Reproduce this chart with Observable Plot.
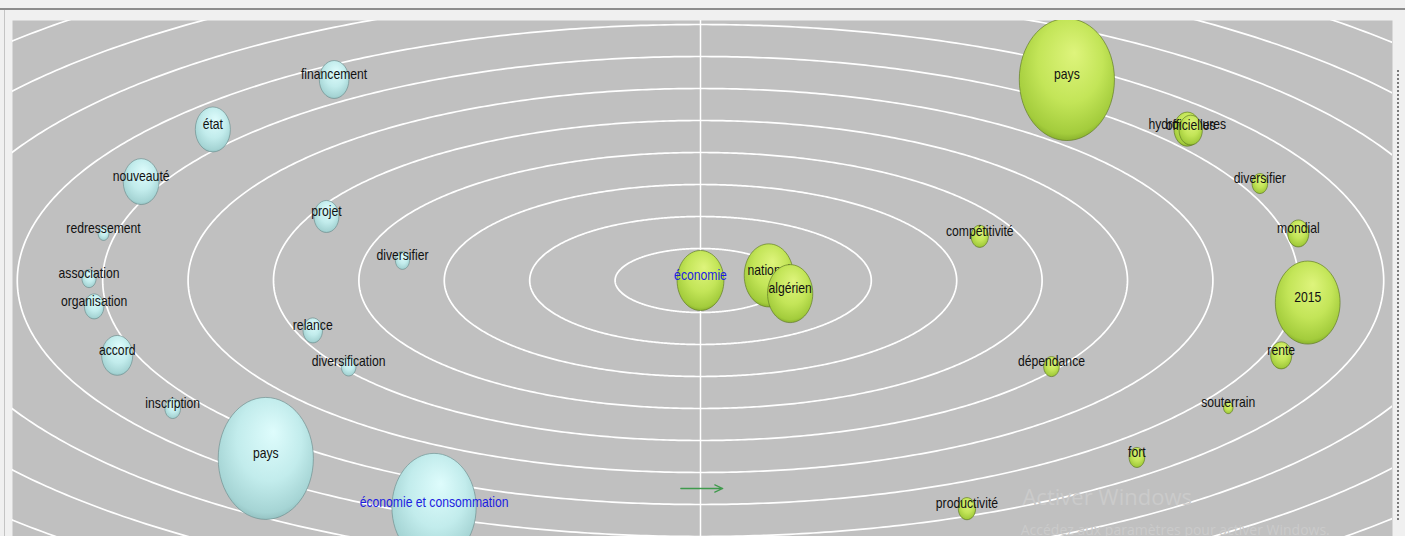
<!DOCTYPE html>
<html>
<head>
<meta charset="utf-8">
<script src="https://cdn.jsdelivr.net/npm/d3@7"></script>
<script src="https://cdn.jsdelivr.net/npm/@observablehq/plot@0.6"></script>
<style>
  html, body { margin: 0; padding: 0; background: #f0f0f0; overflow: hidden; }
  #wrap { position: relative; width: 1405px; height: 536px; }
  #topline { position: absolute; left: 0; top: 8px; width: 1405px; height: 2px; background: #8c8c8c; }
  #leftline { position: absolute; left: 4px; top: 10px; width: 1px; height: 526px; background: #c4c4c4; }
  #rightdots { position: absolute; left: 1397px; top: 70px; width: 0; height: 450px; border-left: 2px dotted #7a7a7a; }
</style>
</head>
<body>
<div id="wrap"></div>
<script>
// ---- data (positions in ring units from the centre, frequencies) ----
const blueWords = ["financement", "état", "nouveauté", "redressement", "projet", "diversifier",
  "association", "organisation", "accord", "inscription", "relance", "diversification",
  "pays", "économie et consommation"];
const blueX = [-4.29, -5.71, -6.55, -6.99, -4.38, -3.49, -7.16, -7.10, -6.83, -6.18, -4.54, -4.12, -5.09, -3.12];
const blueY = [6.28, 4.72, 3.09, 1.47, 2.00, 0.63, 0.06, -0.81, -2.34, -4.00, -1.56, -2.69, -5.56, -7.09];
const blueFreq = [9.7, 13.6, 14.2, 1.3, 6.9, 2.2, 2.2, 4.2, 10.7, 2.7, 4.2, 2.4, 100, 78.4];

const greenWords = ["économie", "national", "algérien", "pays", "hydrocarbures", "officielles",
  "diversifier", "mondial", "rente", "2015", "compétitivité", "dépendance", "souterrain",
  "fort", "productivité"];
const greenX = [0.00, 0.80, 1.05, 4.29, 5.70, 5.74, 6.55, 7.00, 6.80, 7.11, 3.27, 4.11, 6.18, 5.11, 3.12];
const greenY = [0.00, 0.16, -0.41, 6.28, 4.73, 4.70, 3.03, 1.47, -2.34, -0.69, 1.38, -2.69, -3.97, -5.53, -7.13];
const greenFreq = [24.2, 26.7, 22.6, 100, 7.8, 6.0, 2.7, 4.9, 4.9, 46.3, 3.3, 2.7, 1.0, 2.7, 3.3];

const queryTerms = ["économie", "économie et consommation"];
const rings = [1, 2, 3, 4, 5, 6, 7, 8, 9, 10, 11, 12];
const arrowVec = [{x1: -0.23, x2: 0.26, y: -6.5}];
const watermarkText = ["Activer Windows", "Accédez aux paramètres pour activer Windows."];
const watermarkX = [3.77, 3.75];
const watermarkY = [-6.78, -7.82];

// ---- tables ----
const words = [
  ...blueWords.map((w, i) => ({w, x: blueX[i], y: blueY[i], v: blueFreq[i], g: "blue"})),
  ...greenWords.map((w, i) => ({w, x: greenX[i], y: greenY[i], v: greenFreq[i], g: "green"}))
];
const ringPts = rings.flatMap(k => d3.range(0, 721, 1).map(t => ({
  k, x: k * Math.cos(t * Math.PI / 360), y: k * Math.sin(t * Math.PI / 360)
})));
const wm = watermarkText.map((t, i) => ({t, x: watermarkX[i], y: watermarkY[i], i}));

// ellipse symbol (taller than wide)
const ellipseSymbol = {
  draw(ctx, size) {
    const r = Math.sqrt(size / Math.PI), rx = 0.78 * r, ry = r, k = 0.5523;
    ctx.moveTo(rx, 0);
    ctx.bezierCurveTo(rx, k * ry, k * rx, ry, 0, ry);
    ctx.bezierCurveTo(-k * rx, ry, -rx, k * ry, -rx, 0);
    ctx.bezierCurveTo(-rx, -k * ry, -k * rx, -ry, 0, -ry);
    ctx.bezierCurveTo(k * rx, -ry, rx, -k * ry, rx, 0);
    ctx.closePath();
  }
};

const font = "'Liberation Sans', Arial, sans-serif";

const chart = Plot.plot({
  width: 1405,
  height: 536,
  marginLeft: 12,
  marginRight: 13,
  marginTop: 20,
  marginBottom: 0,
  x: {domain: [-8.056, 8.103], axis: null},
  y: {domain: [-8.0, 8.125], axis: null},
  r: {type: "sqrt", domain: [0, 100], range: [0, 61]},
  style: {background: "#f0f0f0", fontFamily: font, overflow: "visible"},
  marks: [
    Plot.frame({fill: "#c0c0c0", stroke: "none"}),
    Plot.line(ringPts, {x: "x", y: "y", z: "k", stroke: "white", strokeWidth: 1.7, clip: true}),
    Plot.ruleX([0], {stroke: "white", strokeWidth: 1.5}),
    Plot.text(wm, {x: "x", y: "y", text: "t", textAnchor: "start",
      fill: "#cbcbcb", fontSize: d => d.i === 0 ? 22 : 14,
      fontFamily: "'Open Sans', 'Noto Sans', sans-serif", clip: true}),
    Plot.arrow(arrowVec, {x1: "x1", x2: "x2", y1: "y", y2: "y", stroke: "#3f9a4c",
      strokeWidth: 1.3, headLength: 10, headAngle: 50}),
    ...words.flatMap(d => [
      Plot.dot([d], {x: "x", y: "y", r: "v", symbol: ellipseSymbol,
        fill: d.g === "blue" ? "url(#gBlue)" : "url(#gGreen)",
        stroke: d.g === "blue" ? "#6f8f8f" : "#5f7a25", strokeWidth: 0.9, strokeOpacity: 0.75,
        clip: true}),
      Plot.text([d], {x: "x", y: "y", text: "w", dy: -5, fontSize: 14.5,
        fill: queryTerms.includes(d.w) ? "#1c1ce0" : "#111111", stroke: "none"})
    ])
  ]
});

d3.select(chart).insert("defs", ":first-child").html(`
  <radialGradient id="gBlue" cx="0.5" cy="0.4" r="0.62" fx="0.58" fy="0.28">
    <stop offset="0" stop-color="#defcfc"/>
    <stop offset="0.55" stop-color="#c2ecec"/>
    <stop offset="0.9" stop-color="#a5d4d4"/>
    <stop offset="1" stop-color="#8fbcbc"/>
  </radialGradient>
  <radialGradient id="gGreen" cx="0.5" cy="0.4" r="0.62" fx="0.58" fy="0.28">
    <stop offset="0" stop-color="#def47c"/>
    <stop offset="0.55" stop-color="#c3e558"/>
    <stop offset="0.9" stop-color="#a3cc3c"/>
    <stop offset="1" stop-color="#82aa28"/>
  </radialGradient>
`);
// condensed look of the original labels
const labelSet = new Set(words.map(d => d.w));
d3.select(chart).selectAll("text").each(function () {
  if (labelSet.has(this.textContent)) {
    const t = this.getAttribute("transform") || "";
    this.setAttribute("transform", t + " scale(0.84,1)");
  }
});

const wrap = document.getElementById("wrap");
wrap.appendChild(chart);
for (const id of ["topline", "leftline", "rightdots"]) {
  const div = document.createElement("div");
  div.id = id;
  wrap.appendChild(div);
}
</script>
</body>
</html>
